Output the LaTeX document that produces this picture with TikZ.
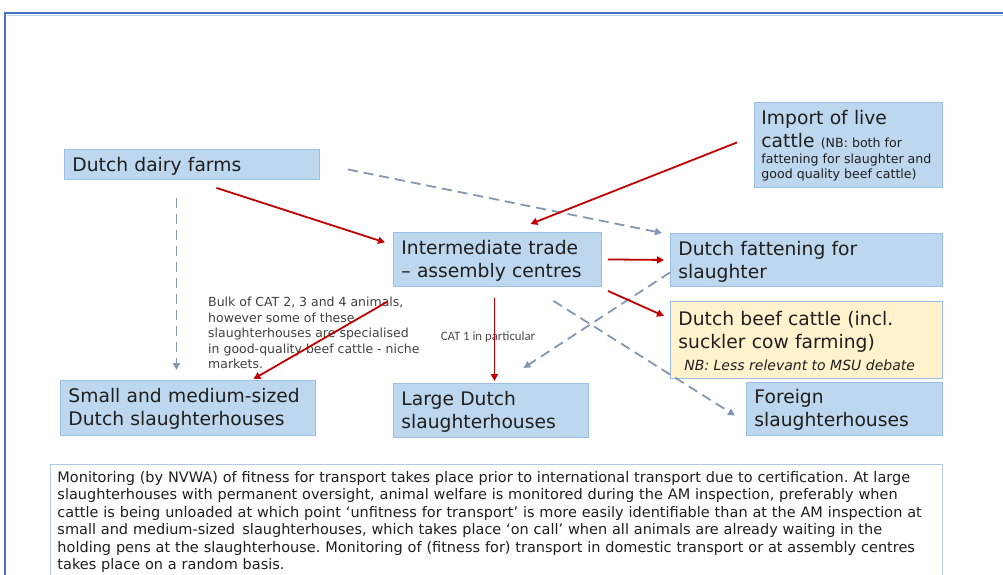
\documentclass[tikz,border=0pt]{standalone}
\usepackage{fontspec}
\setmainfont{DejaVu Sans}
\newfontfamily\calib{Carlito}
\usetikzlibrary{arrows.meta}
\definecolor{boxfill}{HTML}{BDD7EE}
\definecolor{boxline}{HTML}{9DBDE3}
\definecolor{cream}{HTML}{FFF2CC}
\definecolor{redarr}{HTML}{C00000}
\definecolor{dasharr}{HTML}{8497B0}
\definecolor{frameblue}{HTML}{4472C4}
\definecolor{notebord}{HTML}{B4C7E7}
\definecolor{txt}{HTML}{1F1F1F}
\newcommand{\smallfnt}[2]{\fontsize{#1}{#2}\selectfont\spaceskip=0pt\xspaceskip=0pt\relax}
\tikzset{
  box/.style={draw=boxline, fill=boxfill, line width=0.9pt, anchor=north west,
    inner xsep=8pt, inner ysep=0pt, align=left, text=txt,
    font=\fontsize{18.7}{23}\selectfont},
  redline/.style={draw=redarr, line width=1.8pt, -{Triangle[length=7pt,width=7pt]}},
  dashline/.style={draw=dasharr, line width=1.8pt, dash pattern=on 10pt off 6pt,
    -{Triangle[length=7pt,width=7pt]}},
}
\begin{document}
\frenchspacing
\begin{tikzpicture}[x=1pt,y=-1pt]
\useasboundingbox (0,0) rectangle (1003,574);
\fill[white] (0,0) rectangle (1003,574);
% outer frame
\draw[frameblue, line width=1.6pt] (5,600) -- (5,13) -- (1010,13);
\draw[boxfill, line width=1pt] (6.5,15) -- (1010,15);

% boxes
\node[box, text width=239pt, minimum height=30pt] (dairy) at (64,149)
  {\raggedright Dutch dairy farms\par\vspace*{-4pt}};
\node[box, inner xsep=7pt, text width=174pt, minimum height=85pt] (imp) at (754,102)
  {\raggedright Import of live\par
   cattle {\smallfnt{12.6}{15}(NB: both for}\par
   \smallfnt{12.6}{16}\mbox{fattening for slaughter and}\par
   \smallfnt{12.6}{15}\mbox{good quality beef cattle)}\par\vspace*{-2pt}};
\node[box, text width=192pt, minimum height=54pt] (inter) at (393,232)
  {\raggedright Intermediate trade\par – assembly centres\par\vspace*{-3pt}};
\node[box, text width=256pt, minimum height=53pt] (fatten) at (670,233)
  {\raggedright Dutch fattening for\par slaughter\par\vspace*{-3pt}};
\node[box, fill=cream, text width=256pt, minimum height=77pt] (beef) at (670,301)
  {\raggedright Dutch beef cattle (incl.\par suckler cow farming)\par
   \smallfnt{14}{22}\itshape\hspace*{6pt}NB: Less relevant to MSU debate\par\vspace*{-3pt}};
\node[box, text width=239pt, minimum height=55pt] (small) at (60,380)
  {\raggedright Small and medium-sized\par Dutch slaughterhouses\par\vspace*{-2pt}};
\node[box, text width=179pt, minimum height=54pt] (large) at (393,383)
  {\raggedright Large Dutch\par slaughterhouses\par\vspace*{-2pt}};
\node[box, text width=180pt, minimum height=53pt] (foreign) at (746,382)
  {\raggedright Foreign\par slaughterhouses\par\vspace*{-2pt}};

% note
\node[draw=notebord, fill=white, line width=0.9pt, anchor=north west, inner xsep=7pt,
  inner ysep=7pt, text width=878pt, align=left, text=txt,
  font=\fontsize{14.5}{17.4}\selectfont] (note) at (50,464)
  {\raggedright Monitoring (by NVWA) of fitness for transport takes place prior to international transport due to certification. At large\par
   slaughterhouses with permanent oversight, animal welfare is monitored during the AM inspection, preferably when\par
   cattle is being unloaded at which point `unfitness for transport’ is more easily identifiable than at the AM inspection at\par
   small and medium-sized\, slaughterhouses, which takes place `on call’ when all animals are already waiting in the\par
   holding pens at the slaughterhouse. Monitoring of (fitness for) transport in domestic transport or at assembly centres\par
   takes place on a random basis.\par\vspace*{10pt}};

% labels
\node[anchor=north west, inner sep=0pt, align=left, text=txt!85,
  font=\fontsize{12.5}{15.5}\selectfont] (bulk) at (208,297)
  {Bulk of CAT 2, 3 and 4 animals,\\however some of these\\slaughterhouses are specialised\\in good-quality beef cattle - niche\\markets.};
\node[inner sep=0pt, text=black!70, font=\calib\fontsize{12.8}{14}\selectfont] (cat) at (488,337)
  {CAT 1 in particular};

% dashed connectors
\draw[dashline] ([xshift=28pt,yshift=-5pt]dairy.east) -- ([xshift=-8pt]fatten.north west);
\draw[dashline] ([xshift=-15.5pt,yshift=-18pt]dairy.south) -- ([xshift=-11.5pt,yshift=10pt]small.north);
\draw[dashline] ([yshift=-12.5pt]fatten.west) -- ([xshift=32.5pt,yshift=15pt]large.north);
\draw[dashline] ([xshift=56pt,yshift=-14pt]inter.south) -- ([xshift=-11pt,yshift=-6.5pt]foreign.west);

% red connectors
\draw[redline] ([xshift=24.5pt,yshift=-8pt]dairy.south) -- ([xshift=-8pt,yshift=17pt]inter.west);
\draw[redline] ([xshift=-17pt,yshift=2.5pt]imp.west) -- ([xshift=33pt,yshift=8pt]inter.north);
\draw[redline] ([xshift=6pt]inter.east) -- ([xshift=-6pt]fatten.west);
\draw[redline] ([xshift=6pt,yshift=-4pt]inter.south east) -- ([xshift=-6pt,yshift=-15pt]beef.north west);
\draw[redline] ([xshift=-3pt,yshift=-11pt]inter.south) -- ([xshift=3.5pt,yshift=2pt]large.north);
\draw[redline] ([xshift=-6pt,yshift=-15pt]inter.south west) -- ([xshift=65.5pt,yshift=1pt]small.north);
\end{tikzpicture}
\end{document}
